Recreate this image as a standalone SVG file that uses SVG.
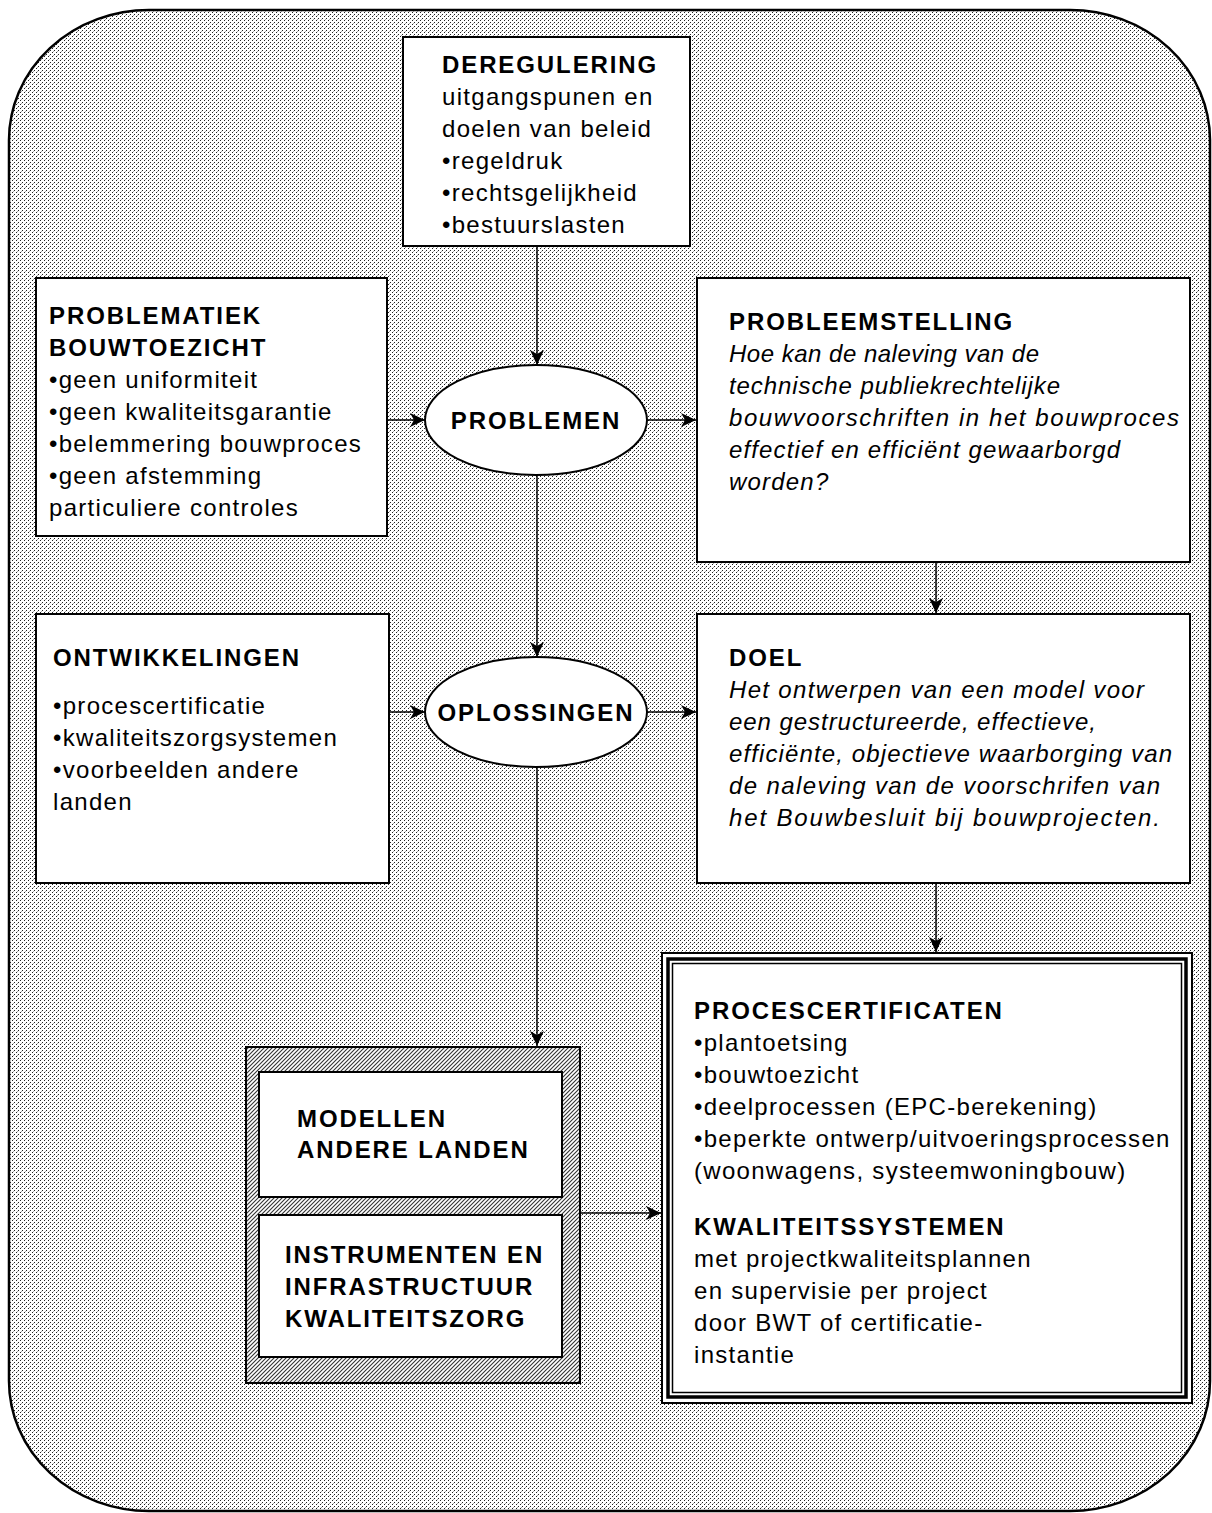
<svg xmlns="http://www.w3.org/2000/svg" width="1212" height="1513" viewBox="0 0 1212 1513">
<defs>
<pattern id="dots" width="4" height="4" patternUnits="userSpaceOnUse">
<rect width="4" height="4" fill="#ffffff"/>
<rect x="0" y="0" width="1" height="1" fill="#222"/>
<rect x="2" y="2" width="1" height="1" fill="#222"/>
<rect x="1" y="3" width="1" height="1" fill="#aaa"/>
</pattern>
<pattern id="hatch" width="4" height="4" patternUnits="userSpaceOnUse">
<rect width="4" height="4" fill="#ffffff"/>
<path d="M-1,1 L1,-1 M0,4 L4,0 M3,5 L5,3" stroke="#333" stroke-width="1.1"/>
</pattern>
<marker id="arr" markerWidth="16" markerHeight="14" refX="15" refY="7" orient="auto" markerUnits="userSpaceOnUse">
<path d="M0,0 L15,7 L0,14 L4,7 Z" fill="#000"/>
</marker>
<style>
.box{fill:#fff;stroke:#000;stroke-width:2}
.t{font-family:"Liberation Sans",Arial,sans-serif;font-size:24px;letter-spacing:1.3px;fill:#000}
.b{font-weight:bold;letter-spacing:1.9px}
.i{font-style:italic;letter-spacing:0}
.c{fill:none;stroke:#000;stroke-width:1.5;marker-end:url(#arr)}
</style>
</defs>
<rect id="background" x="9" y="10" width="1201" height="1501" rx="140" ry="130" fill="url(#dots)" stroke="#000" stroke-width="2.5"/>

<g id="deregulering">
<rect class="box" x="403" y="37" width="287" height="209"/>
<text class="t b" x="442" y="73">DEREGULERING</text>
<text class="t" x="442" y="105">uitgangspunen en</text>
<text class="t" x="442" y="137">doelen van beleid</text>
<text class="t" x="442" y="169">•regeldruk</text>
<text class="t" x="442" y="201">•rechtsgelijkheid</text>
<text class="t" x="442" y="233">•bestuurslasten</text>
</g>

<g id="problematiek">
<rect class="box" x="36" y="278" width="351" height="258"/>
<text class="t b" x="49" y="324">PROBLEMATIEK</text>
<text class="t b" x="49" y="356">BOUWTOEZICHT</text>
<text class="t" x="49" y="388">•geen uniformiteit</text>
<text class="t" x="49" y="420">•geen kwaliteitsgarantie</text>
<text class="t" x="49" y="452">•belemmering bouwproces</text>
<text class="t" x="49" y="484">•geen afstemming</text>
<text class="t" x="49" y="516">particuliere controles</text>
</g>

<g id="problemen">
<ellipse cx="536" cy="420" rx="111" ry="55" fill="#fff" stroke="#000" stroke-width="2"/>
<text class="t b" x="536" y="429" text-anchor="middle">PROBLEMEN</text>
</g>

<g id="probleemstelling">
<rect class="box" x="697" y="278" width="493" height="284"/>
<text class="t b" x="729" y="330">PROBLEEMSTELLING</text>
<text class="t i" x="729" y="362" textLength="310" lengthAdjust="spacing">Hoe kan de naleving van de</text>
<text class="t i" x="729" y="394" textLength="331" lengthAdjust="spacing">technische publiekrechtelijke</text>
<text class="t i" x="729" y="426" textLength="450" lengthAdjust="spacing">bouwvoorschriften in het bouwproces</text>
<text class="t i" x="729" y="458" textLength="391" lengthAdjust="spacing">effectief en efficiënt gewaarborgd</text>
<text class="t i" x="729" y="490" style="letter-spacing:1.2px">worden?</text>
</g>

<g id="ontwikkelingen">
<rect class="box" x="36" y="614" width="353" height="269"/>
<text class="t b" x="53" y="666">ONTWIKKELINGEN</text>
<text class="t" x="53" y="714">•procescertificatie</text>
<text class="t" x="53" y="746">•kwaliteitszorgsystemen</text>
<text class="t" x="53" y="778">•voorbeelden andere</text>
<text class="t" x="53" y="810">landen</text>
</g>

<g id="oplossingen">
<ellipse cx="536" cy="712" rx="111" ry="55" fill="#fff" stroke="#000" stroke-width="2"/>
<text class="t b" x="536" y="721" text-anchor="middle">OPLOSSINGEN</text>
</g>

<g id="doel">
<rect class="box" x="697" y="614" width="493" height="269"/>
<text class="t b" x="729" y="666">DOEL</text>
<text class="t i" x="729" y="698" textLength="415" lengthAdjust="spacing">Het ontwerpen van een model voor</text>
<text class="t i" x="729" y="730" textLength="367" lengthAdjust="spacing">een gestructureerde, effectieve,</text>
<text class="t i" x="729" y="762" textLength="443" lengthAdjust="spacing">efficiënte, objectieve waarborging van</text>
<text class="t i" x="729" y="794" textLength="431" lengthAdjust="spacing">de naleving van de voorschrifen van</text>
<text class="t i" x="729" y="826" textLength="431" lengthAdjust="spacing">het Bouwbesluit bij bouwprojecten.</text>
</g>

<g id="instrumenten-groep">
<rect x="246" y="1047" width="334" height="336" fill="url(#hatch)" stroke="#000" stroke-width="2"/>
<g id="modellen">
<rect class="box" x="259" y="1072" width="303" height="125"/>
<text class="t b" x="297" y="1127">MODELLEN</text>
<text class="t b" x="297" y="1158">ANDERE LANDEN</text>
</g>
<g id="instrumenten">
<rect class="box" x="259" y="1215" width="303" height="142"/>
<text class="t b" x="285" y="1263">INSTRUMENTEN EN</text>
<text class="t b" x="285" y="1295">INFRASTRUCTUUR</text>
<text class="t b" x="285" y="1327">KWALITEITSZORG</text>
</g>
</g>

<g id="procescertificaten">
<rect x="662" y="953" width="530" height="450" fill="#fff" stroke="#000" stroke-width="2"/>
<rect x="668" y="959" width="518" height="438" fill="none" stroke="#000" stroke-width="3.5"/>
<rect x="672.5" y="963.5" width="509" height="429" fill="none" stroke="#000" stroke-width="1.5"/>
<text class="t b" x="694" y="1019">PROCESCERTIFICATEN</text>
<text class="t" x="694" y="1051">•plantoetsing</text>
<text class="t" x="694" y="1083">•bouwtoezicht</text>
<text class="t" x="694" y="1115">•deelprocessen (EPC-berekening)</text>
<text class="t" x="694" y="1147">•beperkte ontwerp/uitvoeringsprocessen</text>
<text class="t" x="694" y="1179">(woonwagens, systeemwoningbouw)</text>
<text class="t b" x="694" y="1235">KWALITEITSSYSTEMEN</text>
<text class="t" x="694" y="1267">met projectkwaliteitsplannen</text>
<text class="t" x="694" y="1299">en supervisie per project</text>
<text class="t" x="694" y="1331">door BWT of certificatie-</text>
<text class="t" x="694" y="1363">instantie</text>
</g>

<g id="connectors">
<line class="c" x1="537" y1="246" x2="537" y2="365"/>
<line class="c" x1="387" y1="420" x2="425" y2="420"/>
<line class="c" x1="647" y1="420" x2="696" y2="420"/>
<line class="c" x1="537" y1="475" x2="537" y2="657"/>
<line class="c" x1="936" y1="562" x2="936" y2="613"/>
<line class="c" x1="389" y1="712" x2="425" y2="712"/>
<line class="c" x1="647" y1="712" x2="696" y2="712"/>
<line class="c" x1="537" y1="767" x2="537" y2="1046"/>
<line class="c" x1="936" y1="883" x2="936" y2="952"/>
<line class="c" x1="580" y1="1213" x2="661" y2="1213"/>
</g>
</svg>
